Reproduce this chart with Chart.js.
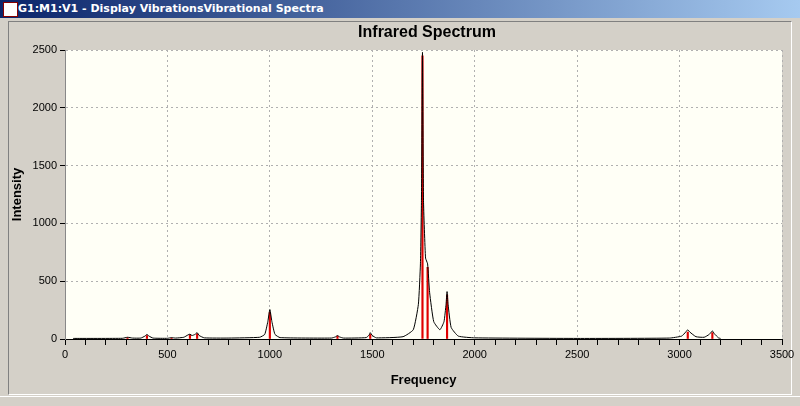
<!DOCTYPE html>
<html><head><meta charset="utf-8">
<script src="https://cdn.jsdelivr.net/npm/chart.js@4/dist/chart.umd.min.js"></script>
<style>
html,body{margin:0;padding:0;width:800px;height:406px;overflow:hidden;background:#d4d0c8;font-family:"Liberation Sans",Arial,sans-serif;}
#bar{position:absolute;left:0;top:0;width:800px;height:18px;background:linear-gradient(90deg,#0a246a,#a6caf0);color:#fff;font:bold 11px Tahoma,"DejaVu Sans",sans-serif;line-height:18px;}
#bar span{margin-left:18px}
#icon{position:absolute;left:3px;top:2px;width:13px;height:13px;background:#fff;border:1px solid #800}
#panel{position:absolute;left:8px;top:21px;width:782px;height:372px;border:1px solid #808080;border-right-color:#fff;border-bottom-color:#fff;}
#ttl{position:absolute;left:0;width:800px;top:23px;text-align:center;font:bold 16px "Liberation Sans",Arial,sans-serif;padding-left:54px;box-sizing:border-box}
#c{position:absolute;left:10px;top:22px;}
#status{position:absolute;left:0;top:396px;width:800px;height:10px;border-top:1px solid #fff}
</style></head><body>
<div id="bar"><div id="icon"></div><span>G1:M1:V1 - Display VibrationsVibrational Spectra</span></div>
<div id="panel"></div>
<canvas id="c" width="790" height="370"></canvas>
<div id="ttl">Infrared Spectrum</div>
<div id="status"></div>
<script>
const stickFreq=[305,400,520,610,645,1000,1330,1490,1745,1770,1865,3040,3160];
const stickInt=[12,30,8,35,45,230,25,40,2450,620,380,60,55];
const curveFreq=[40,280,305,330,370,390,400,410,430,500,520,540,580,600,610,620,635,645,655,680,800,950,975,990,1000,1010,1025,1050,1300,1320,1330,1340,1360,1470,1485,1490,1500,1520,1650,1700,1725,1735,1740,1745,1750,1760,1770,1780,1800,1830,1850,1860,1865,1870,1885,1920,2000,2500,2950,3010,3030,3040,3050,3080,3120,3145,3160,3170,3190,3200];
const curveInt=[5,6,15,8,8,25,40,25,8,6,12,8,15,35,42,30,40,55,30,10,8,15,40,150,255,150,40,12,8,18,30,18,8,12,35,55,30,10,20,80,300,650,1200,2480,1200,700,650,400,150,80,150,300,410,300,100,25,10,5,8,25,60,80,60,20,15,40,70,45,10,5];
const yTicks=[0,500,1000,1500,2000,2500];
const xMajor=[0,500,1000,1500,2000,2500,3000,3500];

const bgPlugin={id:'bg',beforeDraw(ch){const a=ch.chartArea,c=ch.ctx;c.save();c.fillStyle='#fffff6';c.fillRect(a.left,a.top,a.right-a.left,a.bottom-a.top);c.restore();}};
new Chart(document.getElementById('c'),{
 data:{datasets:[
  {type:'line',data:curveFreq.map((x,i)=>({x,y:curveInt[i]})),borderColor:'#000',borderWidth:1,pointRadius:0,tension:0.15,order:1},
  {type:'bar',data:stickFreq.map((x,i)=>({x,y:stickInt[i]})),backgroundColor:'#e00000',barThickness:1.5,order:2}
 ]},
 options:{responsive:false,animation:false,events:[],
  layout:{padding:{left:0,right:18,top:28,bottom:0}},
  plugins:{legend:{display:false},tooltip:{enabled:false}},
  scales:{
   x:{type:'linear',min:0,max:3500,offset:false,afterFit(s){s.height=53;s.paddingRight=0;s.paddingLeft=0;},
    afterBuildTicks(s){const t=[];for(let v=0;v<=3500;v+=100)t.push({value:v});s.ticks=t;},
    ticks:{autoSkip:false,maxRotation:0,color:'#000',font:{family:'Liberation Sans',size:11},callback:v=>xMajor.includes(v)?String(v):''},
    grid:{offset:false,color:c=>c.tick&&c.tick.value%500===0?'#b0b0b0':'rgba(0,0,0,0)',tickColor:'#000',tickLength:6},
    border:{color:'#000',dash:[2,3]},
    title:{display:true,text:'Frequency',color:'#000',font:{family:'Liberation Sans',size:13,weight:'bold'},padding:{top:2}}},
   y:{min:0,max:2500,afterFit(s){s.width=55;},
    afterBuildTicks(s){s.ticks=yTicks.map(v=>({value:v}));},
    ticks:{color:'#000',font:{family:'Liberation Sans',size:11},callback:v=>String(v)},
    grid:{color:'#b0b0b0',tickColor:'#000',tickLength:5},
    border:{color:'#888',dash:[2,3]},
    title:{display:true,text:'Intensity',color:'#000',font:{family:'Liberation Sans',size:13,weight:'bold'},padding:0}}
  }},
 plugins:[bgPlugin]
});
</script></body></html>
